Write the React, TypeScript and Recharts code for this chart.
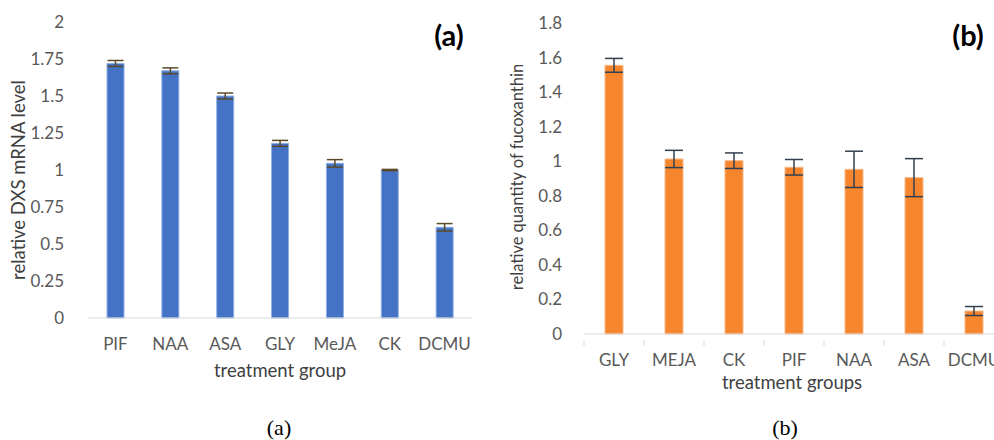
import { BarChart, Bar, XAxis, YAxis, ErrorBar } from "recharts";

// ── Data ───────────────────────────────────────────────────────────────
const groupsA = ["PIF", "NAA", "ASA", "GLY", "MeJA", "CK", "DCMU"];
const dxsLevel = [1.72, 1.67, 1.5, 1.18, 1.045, 1.0, 0.613];
const dxsErr = [0.02, 0.02, 0.02, 0.02, 0.025, 0.004, 0.025];
const ticksA = [0, 0.25, 0.5, 0.75, 1, 1.25, 1.5, 1.75, 2];

const groupsB = ["GLY", "MEJA", "CK", "PIF", "NAA", "ASA", "DCMU"];
const fucoQty = [1.555, 1.013, 1.003, 0.965, 0.953, 0.905, 0.133];
const fucoErr = [0.04, 0.05, 0.045, 0.045, 0.105, 0.11, 0.026];
const ticksB = [0, 0.2, 0.4, 0.6, 0.8, 1, 1.2, 1.4, 1.6, 1.8];

const dataA = groupsA.map((g, i) => ({ name: g, value: dxsLevel[i], err: dxsErr[i] }));
const dataB = groupsB.map((g, i) => ({ name: g, value: fucoQty[i], err: fucoErr[i] }));

const FONT = "Lato, 'Open Sans', sans-serif";
const tick = { fontSize: 17, fill: "#595959", fontFamily: FONT };

const abs = (left: number, top: number, extra: React.CSSProperties = {}): React.CSSProperties => ({
  position: "absolute", left, top, fontFamily: FONT, color: "#404040", whiteSpace: "nowrap", ...extra,
});

// x tick for panel (b): label plus a small mark at the left edge of each band
function BandTick(props: any) {
  const { x, y, payload } = props;
  const half = 30;
  return (
    <g>
      <line x1={x - half} x2={x - half} y1={y - 14} y2={y - 8} stroke="#d9d9d9" />
      <text x={x} y={y} dy="0.71em" textAnchor="middle" {...tick}>{payload.value}</text>
    </g>
  );
}

export default function App() {
  return (
    <div style={{ position: "absolute", left: 0, top: 0, width: 994, height: 440, background: "#fff", overflow: "hidden" }}>
      {/* ── Panel (a) ── */}
      <div style={{ position: "absolute", left: 0, top: 0 }}>
        <BarChart width={500} height={440} data={dataA} margin={{ top: 22, right: 28, left: 20, bottom: 92 }}>
          <XAxis dataKey="name" axisLine={{ stroke: "#d9d9d9" }} tickLine={false} tick={tick} height={30} tickMargin={14} />
          <YAxis domain={[0, 2]} ticks={ticksA} axisLine={false} tickLine={false} tick={tick} width={68} tickMargin={18} interval={0} />
          <Bar dataKey="value" fill="#4472C4" stroke="#8fb0e6" strokeWidth={1} barSize={17} isAnimationActive={false}>
            <ErrorBar dataKey="err" width={8} stroke="#5b4a2a" strokeWidth={1.5} />
          </Bar>
        </BarChart>
      </div>
      <div style={abs(18, 180, { fontSize: 18.5, transform: "translate(-50%, -50%) rotate(-90deg)" })}>relative DXS mRNA level</div>
      <div style={abs(280, 370, { fontSize: 18.5, transform: "translate(-50%, -50%)" })}>treatment group</div>
      <div style={abs(449, 34, { fontSize: 29, fontWeight: 700, color: "#000", transform: "translate(-50%, -50%)" })}>(a)</div>
      <div style={abs(279, 428, { fontSize: 22, color: "#000", fontFamily: "'Liberation Serif', serif", transform: "translate(-50%, -50%)" })}>(a)</div>

      {/* ── Panel (b) ── */}
      <div style={{ position: "absolute", left: 500, top: 0 }}>
        <BarChart width={520} height={440} data={dataB} margin={{ top: 23, right: 16, left: 24, bottom: 76 }}>
          <XAxis dataKey="name" axisLine={{ stroke: "#d9d9d9" }} tickLine={false} tick={<BandTick />} height={30} tickMargin={14} />
          <YAxis domain={[0, 1.8]} ticks={ticksB} axisLine={false} tickLine={false} tick={tick} width={60} tickMargin={16} interval={0} />
          <Bar dataKey="value" fill="#F5862E" stroke="#f9b98a" strokeWidth={1} barSize={18} isAnimationActive={false}>
            <ErrorBar dataKey="err" width={9} stroke="#333f50" strokeWidth={1.5} />
          </Bar>
        </BarChart>
      </div>
      <div style={abs(517, 177, { fontSize: 16.5, transform: "translate(-50%, -50%) rotate(-90deg)" })}>relative quantity of fucoxanthin</div>
      <div style={abs(792, 382, { fontSize: 18.5, transform: "translate(-50%, -50%)" })}>treatment groups</div>
      <div style={abs(968, 34, { fontSize: 29, fontWeight: 700, color: "#000", transform: "translate(-50%, -50%)" })}>(b)</div>
      <div style={abs(785, 428, { fontSize: 22, color: "#000", fontFamily: "'Liberation Serif', serif", transform: "translate(-50%, -50%)" })}>(b)</div>
    </div>
  );
}
